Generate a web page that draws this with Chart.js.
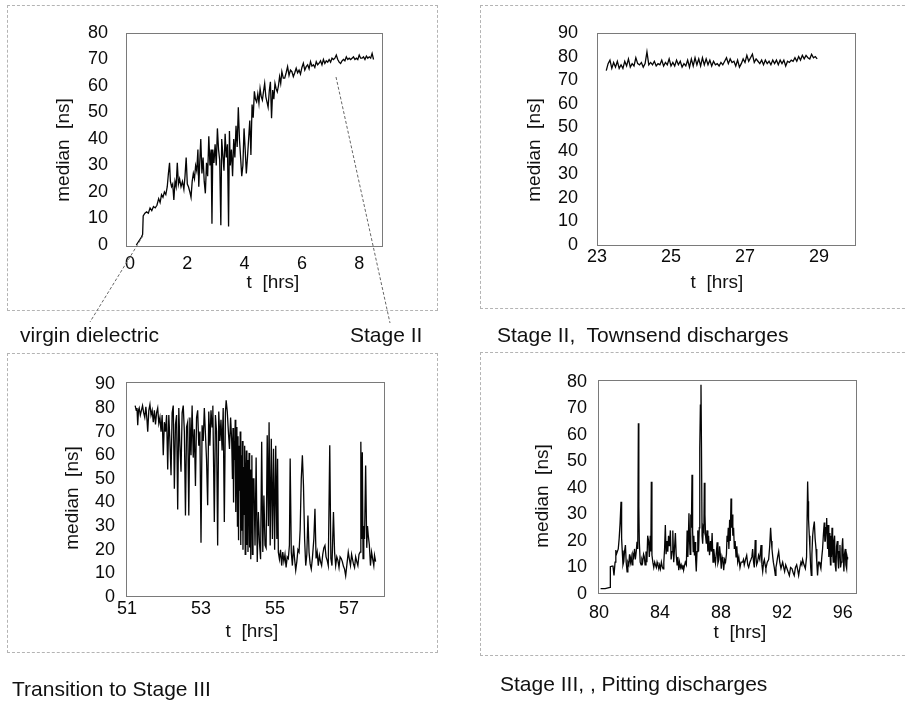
<!DOCTYPE html>
<html>
<head>
<meta charset="utf-8">
<script src="https://cdn.jsdelivr.net/npm/chart.js@4.4.1/dist/chart.umd.min.js"></script>
<style>
html,body{margin:0;padding:0;background:#fff;}
body{width:906px;height:702px;position:relative;overflow:hidden;font-family:"Liberation Sans",Arial,Helvetica,sans-serif;color:#111;}
canvas{position:absolute;}
.frame{position:absolute;border:1px dashed #b4b4b4;box-sizing:border-box;}
.cap{position:absolute;white-space:pre;font-size:21px;line-height:21px;}
.ax{position:absolute;white-space:pre;font-size:19px;line-height:19px;transform:translate(-50%,-50%);}
.ay{position:absolute;white-space:pre;font-size:19px;line-height:19px;transform:translate(-50%,-50%) rotate(-90deg);}
</style>
</head>
<body>
<div class="frame" style="left:7px;top:5px;width:431px;height:306px;"></div>
<div class="frame" style="left:480px;top:5px;width:440px;height:304px;border-right:none;"></div>
<div class="frame" style="left:7px;top:353px;width:431px;height:300px;"></div>
<div class="frame" style="left:480px;top:352px;width:440px;height:304px;border-right:none;"></div>

<canvas id="c1" width="450" height="340" style="left:0;top:0;"></canvas>
<canvas id="c2" width="456" height="340" style="left:450px;top:0;"></canvas>
<canvas id="c3" width="450" height="362" style="left:0;top:340px;"></canvas>
<canvas id="c4" width="456" height="362" style="left:450px;top:340px;"></canvas>

<div class="ay" style="left:62px;top:150px;">median  [ns]</div>
<div class="ay" style="left:533px;top:150px;">median  [ns]</div>
<div class="ay" style="left:71px;top:498px;">median  [ns]</div>
<div class="ay" style="left:541px;top:496px;">median  [ns]</div>

<div class="ax" style="left:273px;top:281px;">t  [hrs]</div>
<div class="ax" style="left:717px;top:281px;">t  [hrs]</div>
<div class="ax" style="left:252px;top:630px;">t  [hrs]</div>
<div class="ax" style="left:740px;top:631px;">t  [hrs]</div>

<div class="cap" style="left:20px;top:324px;">virgin dielectric</div>
<div class="cap" style="left:350px;top:324px;">Stage II</div>
<div class="cap" style="left:497px;top:324px;">Stage II,  Townsend discharges</div>
<div class="cap" style="left:12px;top:678px;">Transition to Stage III</div>
<div class="cap" style="left:500px;top:673px;">Stage III, , Pitting discharges</div>

<script>
// ---------- Panel 1 : virgin dielectric -> Stage II (0 - 8.5 h) ----------
const p1Hours = [
0.22,0.40,0.44,0.46,0.52,0.58,0.64,0.70,0.76,0.82,
0.88,0.94,1.00,1.05,1.10,1.15,1.20,1.25,1.30,1.34,
1.38,1.41,1.45,1.49,1.53,1.57,1.61,1.65,1.69,1.73,
1.78,1.83,1.88,1.92,1.96,2.00,2.04,2.09,2.13,2.17,
2.21,2.25,2.29,2.33,2.37,2.40,2.43,2.47,2.51,2.55,
2.59,2.63,2.67,2.71,2.75,2.79,2.83,2.86,2.89,2.93,
2.97,3.01,3.05,3.09,3.13,3.17,3.20,3.24,3.28,3.32,
3.36,3.40,3.44,3.47,3.50,3.54,3.58,3.62,3.66,3.70,
3.74,3.78,3.82,3.86,3.90,3.94,3.98,4.02,4.06,4.10,
4.14,4.18,4.22,4.26,4.30,4.34,4.38,4.42,4.46,4.50,
4.54,4.58,4.62,4.66,4.70,4.74,4.78,4.82,4.86,4.90,
4.94,4.98,5.02,5.06,5.10,5.14,5.18,5.22,5.26,5.30,
5.35,5.40,5.45,5.50,5.55,5.60,5.65,5.70,5.75,5.80,
5.85,5.90,5.95,6.00,6.05,6.10,6.15,6.20,6.25,6.30,
6.35,6.40,6.45,6.50,6.55,6.60,6.65,6.70,6.75,6.80,
6.85,6.90,6.95,7.00,7.05,7.10,7.15,7.20,7.25,7.30,
7.35,7.40,7.45,7.50,7.55,7.60,7.65,7.70,7.75,7.80,
7.85,7.90,7.95,8.00,8.05,8.10,8.15,8.20,8.25,8.30,
8.35,8.40,8.45,8.50];
const p1Median = [
0,3,4,11,12,12.5,12,14,13,14.5,
14,15,17.5,16,19,18,20,19,22,27,
31,24,22,23,17,24,22,31,23,25,
22,24,21,26,33,23,22,20,18,24,
27,25,30,28,36,22,30,40,27,33,
24,19.5,31,26,41,30,36,8,36,31,
38,30,44,36,32,7.5,40,34,28,42,
33,38,7,43,30,36,26,40,33,45,
37,52,40,33,26,30,44,36,27,33,
40,47,34,53,48,58,55,54,57,53.5,
59,56,54.7,58,61,56,54,52,58,61.6,
47.8,58.5,55,61,59,57.8,60,63.5,61,65.4,
63,63,65,67.3,64,66,65.4,63.5,65,66.7,
65,66,64.5,67,68.6,66,67.3,68,66.5,69.2,
67.5,68,67,69.2,68,68.6,69.5,68,70,68.5,
69.5,69,70,69,70.5,70,70.5,71.7,70,69,
68.5,69.5,70,69.5,71,70,70.5,70,70.5,71,
70,70.5,70,71.7,70.5,70.5,71,70,71.3,70.5,
71,70.5,72.3,70];
const p1XTicks = [0,2,4,6,8];
const p1YTicks = [0,10,20,30,40,50,60,70,80];

// ---------- Panel 2 : Stage II, Townsend discharges (23 - 29 h) ----------
const p2Hours = [
23.25,23.30,23.35,23.40,23.45,23.50,23.55,23.60,23.65,23.70,
23.75,23.80,23.85,23.90,23.95,24.00,24.05,24.10,24.15,24.20,
24.25,24.30,24.35,24.40,24.45,24.50,24.55,24.60,24.65,24.70,
24.75,24.80,24.85,24.90,24.95,25.00,25.05,25.10,25.15,25.20,
25.25,25.30,25.35,25.40,25.45,25.50,25.55,25.60,25.65,25.70,
25.75,25.80,25.85,25.90,25.95,26.00,26.05,26.10,26.15,26.20,
26.25,26.30,26.35,26.40,26.45,26.50,26.55,26.60,26.65,26.70,
26.75,26.80,26.85,26.90,26.95,27.00,27.05,27.10,27.15,27.20,
27.25,27.30,27.35,27.40,27.45,27.50,27.55,27.60,27.65,27.70,
27.75,27.80,27.85,27.90,27.95,28.00,28.05,28.10,28.15,28.20,
28.25,28.30,28.35,28.40,28.45,28.50,28.55,28.60,28.65,28.70,
28.75,28.80,28.85,28.90,28.95];
const p2Median = [
74,77,78.5,75,77.5,75.5,78,75,76.5,75,
78,76,79,75.5,77,76,79.5,77,76.5,77.5,
75.5,77,82,76.5,77.5,76.5,78,76,77,76.5,
78.5,76,77.5,76.5,79,76,77.5,76,78.5,76.5,
78,75.5,77,76,78.5,75.5,79,76,79.5,76.5,
79,76,79.5,76.5,79,76.5,78.5,76,78,76.5,
77,76,77.5,76.5,78,79.5,77,79,77.5,78,
76,78.5,75.5,77,79,77.5,80.5,78,79.5,81,
77.5,79,78,77,78.5,76.5,78.5,77,78,76.5,
78.5,77,78.5,76.5,78.5,77,78.5,76,78,77.5,
78.5,78,79.5,78,80,78.5,80.5,79,80.5,79.5,
79,81,79.5,80,79];
const p2XTicks = [23,25,27,29];
const p2YTicks = [0,10,20,30,40,50,60,70,80,90];

// ---------- Panel 3 : Transition to Stage III (51 - 58 h) ----------
const p3Hours = [
51.22,51.25,51.27,51.29,51.31,51.33,51.36,51.39,51.42,51.45,
51.48,51.51,51.54,51.56,51.59,51.62,51.65,51.68,51.71,51.74,
51.77,51.80,51.83,51.86,51.89,51.92,51.95,51.98,52.01,52.04,
52.07,52.10,52.13,52.16,52.19,52.22,52.25,52.28,52.31,52.34,
52.37,52.40,52.43,52.46,52.49,52.52,52.55,52.58,52.61,52.64,
52.67,52.70,52.73,52.76,52.79,52.82,52.85,52.88,52.91,52.94,
52.97,53.00,53.03,53.06,53.09,53.12,53.15,53.18,53.21,53.24,
53.27,53.30,53.32,53.36,53.39,53.42,53.45,53.48,53.51,53.54,
53.57,53.60,53.63,53.66,53.68,53.71,53.74,53.77,53.80,53.83,
53.850,53.865,53.880,53.895,53.910,53.925,53.940,53.955,53.970,53.985,
54.000,54.015,54.030,54.045,54.060,54.075,54.090,54.105,54.120,54.135,
54.150,54.165,54.180,54.195,54.210,54.225,54.240,54.255,54.270,54.285,
54.300,54.315,54.330,54.345,54.360,54.375,54.390,54.405,
54.43,54.46,54.49,54.52,54.55,54.58,54.61,54.64,54.67,54.70,
54.73,54.76,54.79,54.82,54.84,54.87,54.90,54.93,54.96,54.99,
55.02,55.05,55.07,55.09,55.12,55.15,55.18,55.21,55.24,55.27,
55.30,55.33,55.36,55.39,55.41,55.44,55.47,55.50,55.53,55.56,
55.59,55.62,55.65,55.68,55.71,55.74,55.77,55.80,55.83,55.86,
55.89,55.92,55.95,55.98,56.01,56.05,56.08,56.11,56.14,56.17,
56.20,56.23,56.26,56.29,56.32,56.35,56.38,56.41,56.44,56.48,
56.51,56.54,56.58,56.61,56.64,56.67,56.70,56.73,56.76,56.79,
56.82,56.85,56.88,56.91,56.94,56.98,57.01,57.04,57.07,57.09,
57.12,57.15,57.18,57.21,57.24,57.27,57.30,57.32,57.34,57.36,
57.38,57.40,57.42,57.45,57.48,57.50,57.52,57.55,57.58,57.61,
57.64,57.67,57.69,57.72];
const p3Median = [
81,79,80,72.7,79,80,77,79,81,78,
76,80.5,75,70,79,81.5,77,79,74,79,
73,78,80,73.5,76,70,77,60,74,70,
77,54,77,66,51.5,78,81,45.8,73,77,
37,80,64,53,78,81,70,34.5,72,74,
34.5,76,60,81,59,71,47,76,79,64,
70,23,72.7,66,80,69,58,38.8,78.5,64,
79,72,81,31.7,77,70,21.8,78.5,66,75,
62,80,31.7,78,83.3,78.5,70,62.7,76,66,
50,71.5,40,66,58,75,36,61,72,30,
68,24,64,45,70,22,60,28,66,20,
55,35,64,18,50,62,22,58,19,47,
61,21,54,16,44,60,18,50,
50,21.8,59,14.8,36,23,16,65.7,19,43,
22,20.8,68.5,30,74,21.8,67,24.6,62.7,20,
64,24.6,58.5,19,16,20,13.3,19,15,18,
12.5,17,16.3,22,58.6,19,13.3,21.8,16,11.3,
15,20,19,28.6,50,60,47,24.6,13.3,18,
34.5,19,14,11.8,16.3,24.6,37.3,16.3,19,13.3,
17.6,15,13.3,18,20.8,21.8,17,15.5,13.3,64.2,
16.3,13.3,36,19,13.3,17,15.5,12.5,17,16.3,
15,13,11.8,9,13.3,19,16,13.3,18,16.3,
14,12.5,17,15,13.3,18,19,65.7,24.6,61.3,
16.3,30,24.6,55.7,20.8,30,26.2,22,13.3,19,
16,13.3,17.6,15];
const p3XTicks = [51,53,55,57];
const p3YTicks = [0,10,20,30,40,50,60,70,80,90];

// ---------- Panel 4 : Stage III, Pitting discharges (80 - 96 h) ----------
const p4Hours = [
80.10,80.40,80.72,80.74,80.85,80.91,80.98,81.05,81.10,81.14,
81.20,81.26,81.32,81.38,81.44,81.48,81.52,81.57,81.62,81.67,
81.73,81.78,81.84,81.89,81.95,82.00,82.06,82.11,82.17,82.22,
82.27,82.33,82.38,82.44,82.49,82.54,82.58,82.61,82.64,82.70,
82.76,82.81,82.86,82.92,82.97,83.02,83.08,83.14,83.19,83.25,
83.30,83.36,83.40,83.43,83.47,83.53,83.59,83.65,83.70,83.76,
83.81,83.86,83.92,83.97,84.03,84.09,84.14,84.20,84.25,84.30,
84.35,84.40,84.46,84.51,84.56,84.62,84.68,84.73,84.79,84.84,
84.90,84.95,85.01,85.06,85.12,85.17,85.23,85.28,85.34,85.39,
85.45,85.50,85.55,85.60,85.66,85.73,85.78,85.83,85.90,85.94,
85.98,86.02,86.06,86.10,86.14,86.18,86.22,86.26,86.30,86.34,
86.38,86.43,86.48,86.53,86.58,86.61,86.65,86.69,86.72,86.76,
86.80,86.84,86.88,86.91,86.95,86.99,87.04,87.09,87.14,87.19,
87.25,87.31,87.37,87.42,87.48,87.53,87.58,87.64,87.69,87.75,
87.80,87.86,87.91,87.96,88.02,88.07,88.13,88.18,88.24,88.30,
88.36,88.40,88.44,88.48,88.52,88.57,88.61,88.66,88.70,88.74,
88.78,88.83,88.88,88.93,88.99,89.04,89.10,89.17,89.25,89.32,
89.42,89.48,89.53,89.61,89.69,89.76,89.82,89.90,89.97,90.03,
90.08,90.14,90.19,90.25,90.30,90.34,90.40,90.47,90.55,90.63,
90.69,90.74,90.80,90.85,90.90,90.95,91.04,91.13,91.20,91.26,
91.31,91.35,91.40,91.44,91.50,91.57,91.61,91.65,91.72,91.79,
91.86,91.94,92.00,92.05,92.12,92.18,92.25,92.31,92.40,92.49,
92.57,92.66,92.74,92.81,92.89,92.97,93.04,93.10,93.18,93.25,
93.31,93.36,93.45,93.54,93.62,93.69,93.72,93.75,93.80,93.84,
93.89,93.93,93.97,94.02,94.07,94.13,94.18,94.24,94.29,94.34,
94.40,94.45,94.50,94.56,94.62,94.67,94.72,94.78,94.82,94.85,
94.90,94.94,94.97,95.00,95.04,95.08,95.11,95.15,95.19,95.22,
95.25,95.29,95.33,95.37,95.41,95.46,95.50,95.55,95.59,95.64,
95.68,95.72,95.76,95.81,95.85,95.90,95.94,95.99,96.03,96.07,
96.11,96.16,96.20,96.25,96.28,96.31];
const p4Median = [
2,2,2.5,10.3,10.5,10.7,7,12,16.6,15,
16,17,21,26.8,34.8,21,16.4,11,12.2,16,
18.5,12,8.4,12,11,15,12,14,11,15,
14,17,13,16,19.7,17,64.4,33,20,12,
11,13,12,15,14,11,16,12,22,20,
14,22,16,42.4,14.7,12,10,12,11,10,
12,11,9.5,11,9.5,12,10.5,9.5,12,17,
26,15,20,16,22,18,24,13,16,24,
12,17,23,15,11,14,9,12,10,11,
9.5,11,9,10.5,12,11,24,14,30.5,20,
15,30,25,45,24,16,22,14.5,19.6,13,
8.5,16,24,16,25,55,71.3,79,57,22,
19,25,24,42,30,22,19,24,16,22,
14.6,20,16,23,12,17,14,11.6,15,19.5,
11.6,13,18,15,9.5,14,12.5,9,13,12,
15,22,19.6,25,17,28,20,36,25,30,
22,25,17,20,14,18,12,14,10,12,
12,13,11,13,14.6,11,10,12,13,14,
17,12,10,20.4,14,11,12,14.6,13,18.5,
11,8.5,12,13,11,9.6,12,13,18,25,
20,17,14,12,10,7,10,11.3,14,16,
12,9.6,11,12,10,8.5,11,10,8.5,7,
10,9.6,8,7,10,11,9,7,10,12,
11,13,11,9.6,14,42.4,35,28,22,17,
10,7,15,22,25,27.3,21,17,12,7,
12,12,11,9.6,14,17,22,27,20,20,
25,28.7,22,17,26,14,23,18,11,22,
14,25,16,12,20,22,11,8.5,18,20,
13,9.6,16,18.5,10,12,17,21,14,8.5,
15,17,11,9.6,14,13];
const p4XTicks = [80,84,88,92,96];
const p4YTicks = [0,10,20,30,40,50,60,70,80];

// ---------- drawing ----------
const plotFrame = {
  id: 'plotFrame',
  afterDatasetsDraw(chart) {
    const a = chart.chartArea, ctx = chart.ctx;
    ctx.save();
    ctx.strokeStyle = '#7a7a7a';
    ctx.lineWidth = 1;
    ctx.strokeRect(Math.round(a.left) + 0.5, Math.round(a.top) + 0.5, Math.round(a.width) - 1, Math.round(a.height) - 1);
    ctx.restore();
  }
};

const pointerLines = {
  id: 'pointerLines',
  afterDraw(chart) {
    const xs = chart.scales.x, ys = chart.scales.y, ctx = chart.ctx;
    ctx.save();
    ctx.strokeStyle = '#666';
    ctx.lineWidth = 1;
    ctx.setLineDash([3, 2]);
    ctx.beginPath();
    ctx.moveTo(xs.getPixelForValue(0.45), ys.getPixelForValue(3.4));
    ctx.lineTo(90, 322);
    ctx.moveTo(xs.getPixelForValue(7.19), ys.getPixelForValue(63.4));
    ctx.lineTo(390, 323);
    ctx.stroke();
    ctx.restore();
  }
};

const tickFont = {family: "'Liberation Sans', Arial, sans-serif", size: 18};

function makeChart(id, hours, medians, cfg) {
  const pts = hours.map((h, i) => ({x: h, y: medians[i]}));
  const canvas = document.getElementById(id);
  const W = canvas.width, H = canvas.height;
  const [L, T, R, B] = cfg.area;
  return new Chart(canvas, {
    type: 'line',
    data: {datasets: [{data: pts, borderColor: '#050505', borderWidth: 1.3, pointRadius: 0, tension: 0, fill: false}]},
    options: {
      responsive: false, animation: false, events: [],
      layout: {padding: {left: 0, top: T, right: W - R, bottom: 0}},
      plugins: {legend: {display: false}, tooltip: {enabled: false}, title: {display: false}},
      scales: {
        x: {
          type: 'linear', min: cfg.xRange[0], max: cfg.xRange[1],
          grid: {display: false, drawTicks: false}, border: {display: false},
          ticks: {autoSkip: false, maxRotation: 0, padding: cfg.xPad, color: '#0a0a0a', font: tickFont},
          afterBuildTicks: s => { s.ticks = cfg.xTicks.map(v => ({value: v})); },
          afterFit: s => { s.height = H - B; }
        },
        y: {
          type: 'linear', min: cfg.yRange[0], max: cfg.yRange[1],
          grid: {display: false, drawTicks: false}, border: {display: false},
          ticks: {autoSkip: false, padding: cfg.yPad, color: '#0a0a0a', font: tickFont},
          afterBuildTicks: s => { s.ticks = cfg.yTicks.map(v => ({value: v})); },
          afterFit: s => { s.width = L; }
        }
      }
    },
    plugins: [plotFrame].concat(cfg.extra || [])
  });
}

makeChart('c1', p1Hours, p1Median, {
  area: [126, 33, 383, 247], xRange: [-0.14, 8.83], yRange: [-0.75, 80],
  xTicks: p1XTicks, yTicks: p1YTicks, xPad: 6, yPad: 18, extra: [pointerLines]
});
makeChart('c2', p2Hours, p2Median, {
  area: [147, 33, 406, 246], xRange: [23, 30], yRange: [-0.4, 90],
  xTicks: p2XTicks, yTicks: p2YTicks, xPad: 0, yPad: 19
});
makeChart('c3', p3Hours, p3Median, {
  area: [126, 42, 385, 257], xRange: [50.973, 57.973], yRange: [0, 91],
  xTicks: p3XTicks, yTicks: p3YTicks, xPad: 1, yPad: 11
});
makeChart('c4', p4Hours, p4Median, {
  area: [148, 40, 407, 254], xRange: [79.93, 96.93], yRange: [0, 80.75],
  xTicks: p4XTicks, yTicks: p4YTicks, xPad: 8, yPad: 11
});
</script>
</body>
</html>
